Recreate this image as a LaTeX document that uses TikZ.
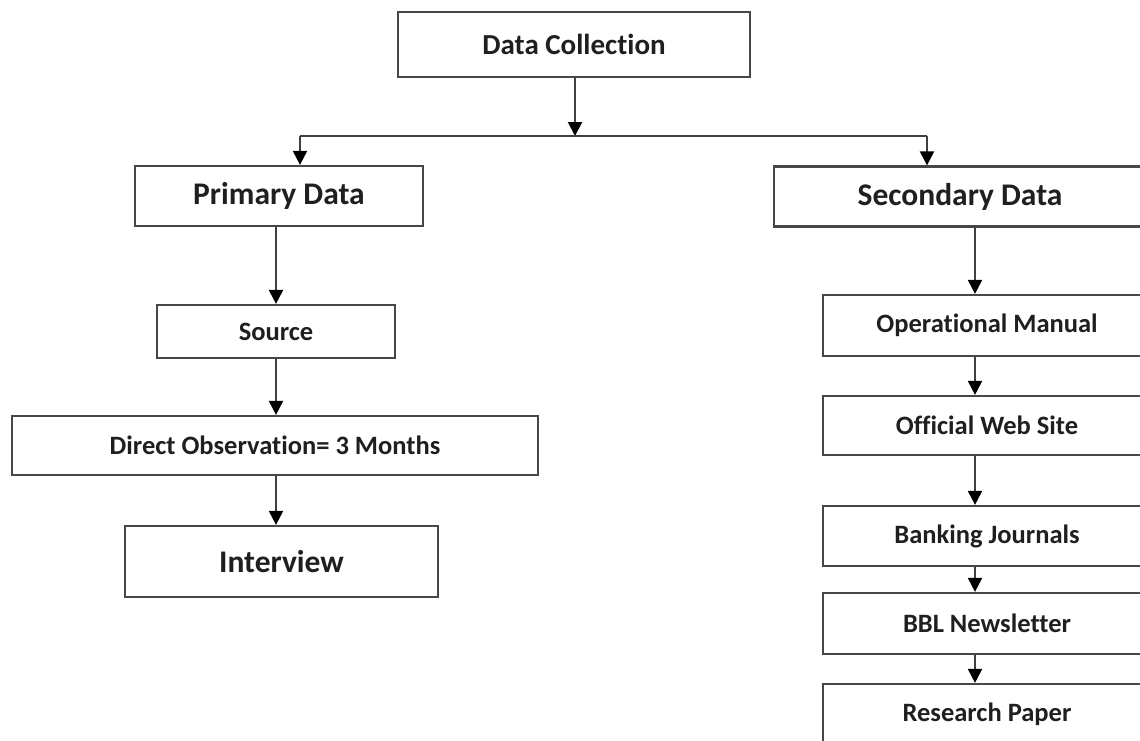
\documentclass[tikz,border=0pt]{standalone}
\usepackage{fontspec}
\setmainfont{Carlito}[Ligatures=NoCommon]
\usetikzlibrary{positioning,arrows.meta}
\tikzset{>={Triangle[width=14pt,length=14pt,color=black]}}
\tikzset{
  box/.style={draw=black!72,line width=2.2pt,fill=white,inner sep=0pt,text=black!88},
  bigtxt/.style={font=\bfseries\fontsize{31.5}{36}\selectfont},
  toptxt/.style={font=\bfseries\fontsize{29}{34}\selectfont},
  smalltxt/.style={font=\bfseries\fontsize{26.5}{30}\selectfont},
  link/.style={draw=black!75,line width=2pt}
}

\begin{document}
\begin{tikzpicture}[x=1pt,y=-1pt]
\clip (0,0) rectangle (1140,740);
\fill[white] (0,0) rectangle (1140,740);
\node[box,toptxt,minimum width=352pt,minimum height=65pt] (coll) at (574,44.5) {Data Collection};
\node[box,bigtxt,minimum width=288pt,minimum height=60pt] (prim) at (279,196) {Primary Data};
\node[box,bigtxt,minimum width=372pt,minimum height=60pt] (sec) at (960,196.5) {Secondary Data};
\node[box,smalltxt,minimum width=238pt,minimum height=53pt] (src) at (276,331.5) {Source};
\node[box,smalltxt,minimum width=526pt,minimum height=59pt] (obs) at (275,445.5) {Direct Observation= 3 Months};
\node[box,bigtxt,minimum width=313pt,minimum height=71pt] (intv) at (281.5,561.5) {Interview};
\node[box,smalltxt,minimum width=328pt,minimum height=61pt] (opm) at (987,325.5) {Operational Manual};
\node[box,smalltxt,minimum width=328pt,minimum height=59pt] (web) at (987,425.5) {Official Web Site};
\node[box,smalltxt,minimum width=328pt,minimum height=60pt] (bank) at (987,536) {Banking Journals};
\node[box,smalltxt,minimum width=328pt,minimum height=61pt] (bbl) at (987,623.5) {BBL Newsletter};
\node[box,smalltxt,minimum width=328pt,minimum height=60pt] (res) at (987,714) {Research Paper};
\coordinate (split) at (575,136);
\coordinate (lt) at (300,136);
\coordinate (rt) at (927,136);
\coordinate (lx) at (276,0);
\coordinate (rx) at (975,0);
\draw[link,->] (coll.south -| split) -- (split);
\draw[link] (lt) -- (rt);
\draw[link,->] (lt) -- (prim.north -| lt);
\draw[link,->] (rt) -- (sec.north -| rt);
\draw[link,->] (prim.south -| lx) -- (src.north -| lx);
\draw[link,->] (src.south -| lx) -- (obs.north -| lx);
\draw[link,->] (obs.south -| lx) -- (intv.north -| lx);
\draw[link,->] (sec.south -| rx) -- (opm.north -| rx);
\draw[link,->] (opm.south -| rx) -- (web.north -| rx);
\draw[link,->] (web.south -| rx) -- (bank.north -| rx);
\draw[link,->] (bank.south -| rx) -- (bbl.north -| rx);
\draw[link,->] (bbl.south -| rx) -- (res.north -| rx);
\end{tikzpicture}
\end{document}
